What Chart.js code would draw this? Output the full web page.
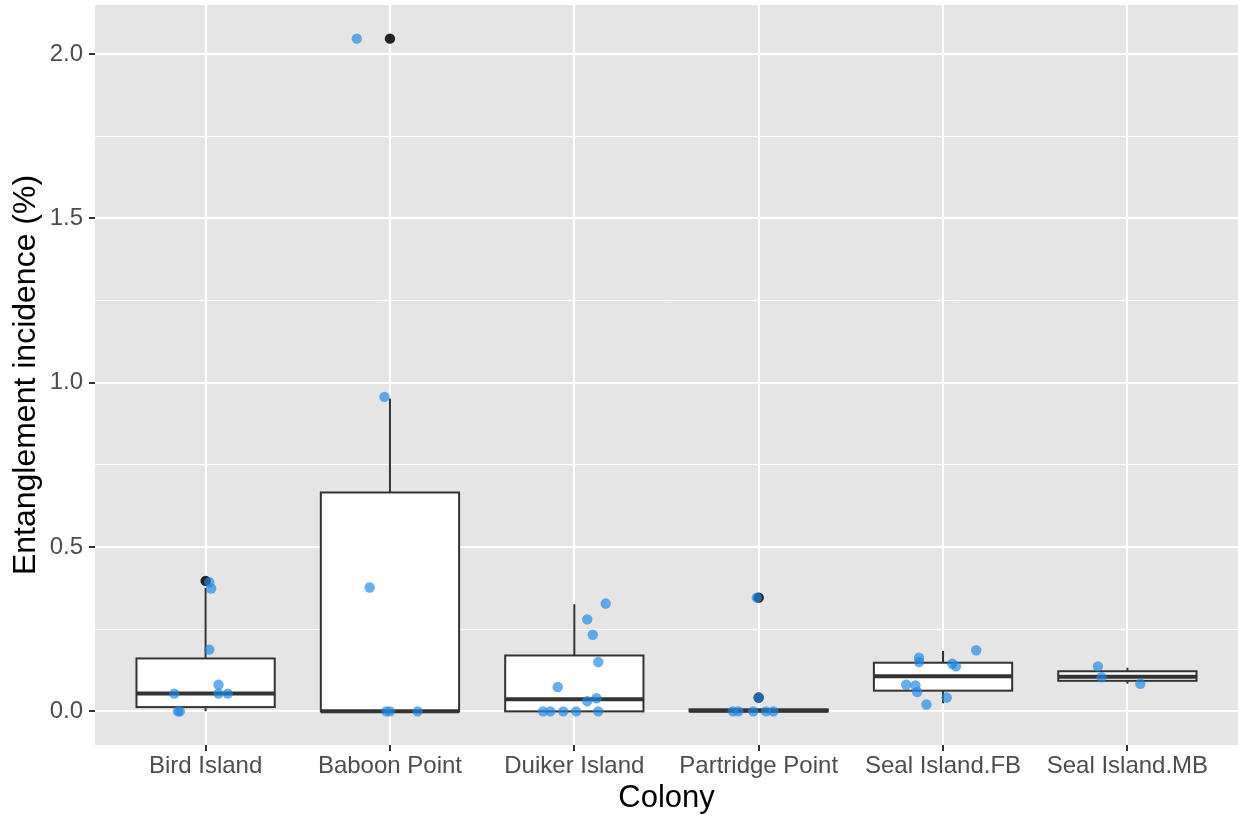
<!DOCTYPE html>
<html>
<head>
<meta charset="utf-8">
<title>Entanglement incidence by colony</title>
<script src="https://cdn.jsdelivr.net/npm/chart.js@4.4.1/dist/chart.umd.min.js"></script>
<style>
  html, body { margin: 0; padding: 0; background: #ffffff; }
  #chart { display: block; }
</style>
</head>
<body>
<canvas id="chart" width="1238" height="817"></canvas>
<script>
// Colonies on the x axis
const colonies = ['Bird Island', 'Baboon Point', 'Duiker Island', 'Partridge Point', 'Seal Island.FB', 'Seal Island.MB'];

// Box-plot summaries per colony (entanglement incidence, %)
const lowerWhisker = [0.000, 0.000, 0.000, 0.000, 0.025, 0.084];
const lowerQuartile = [0.013, 0.000, 0.000, 0.000, 0.063, 0.093];
const medianValue  = [0.054, 0.000, 0.0365, 0.002, 0.107, 0.105];
const upperQuartile = [0.161, 0.666, 0.170, 0.006, 0.148, 0.122];
const upperWhisker = [0.375, 0.952, 0.326, 0.006, 0.184, 0.133];
const outlierValues = [[0.397], [2.047], [], [0.346, 0.042], [], []];

// Individual observations per colony, with the horizontal jitter of each point (category units)
const birdIsland = [0.393, 0.374, 0.188, 0.081, 0.054, 0.054, 0.054, 0, 0];
const birdIslandJitter = [0.02, 0.03, 0.02, 0.07, -0.17, 0.07, 0.12, -0.15, -0.14];
const baboonPoint = [2.047, 0.957, 0.377, 0, 0, 0];
const baboonPointJitter = [-0.18, -0.03, -0.11, -0.02, 0.00, 0.15];
const duikerIsland = [0.328, 0.280, 0.233, 0.150, 0.074, 0.040, 0.031, 0, 0, 0, 0, 0];
const duikerIslandJitter = [0.17, 0.07, 0.10, 0.13, -0.09, 0.12, 0.07, -0.17, -0.13, -0.06, 0.01, 0.13];
const partridgePoint = [0.346, 0.042, 0, 0, 0, 0, 0];
const partridgePointJitter = [-0.01, 0.00, -0.14, -0.11, -0.03, 0.04, 0.08];
const sealIslandFB = [0.186, 0.163, 0.150, 0.145, 0.137, 0.081, 0.079, 0.059, 0.042, 0.021];
const sealIslandFBJitter = [0.18, -0.13, -0.13, 0.05, 0.07, -0.20, -0.15, -0.14, 0.02, -0.09];
const sealIslandMB = [0.137, 0.104, 0.084];
const sealIslandMBJitter = [-0.16, -0.14, 0.07];

// Axis ticks
const yMajorTicks = [0, 0.5, 1.0, 1.5, 2.0];
const yTickLabels = ['0.0', '0.5', '1.0', '1.5', '2.0'];
const yMinorTicks = [0.25, 0.75, 1.25, 1.75];

const observations = [birdIsland, baboonPoint, duikerIsland, partridgePoint, sealIslandFB, sealIslandMB];
const jitters = [birdIslandJitter, baboonPointJitter, duikerIslandJitter, partridgePointJitter, sealIslandFBJitter, sealIslandMBJitter];

const FONT = "'Liberation Sans', Arial, Helvetica, sans-serif";
const BOX_HALF = 0.375;
const LINE = '#333333';

// Scale limits padded by 5% of the data range, categories padded by 0.6
const dataMax = Math.max(...observations.flat());
const dataMin = 0;
const pad = (dataMax - dataMin) * 0.05;
const yMin = dataMin - pad;
const yMax = dataMax + pad;

const jitterPoints = [];
observations.forEach((vals, i) => {
  vals.forEach((v, k) => jitterPoints.push({ x: i + 1 + jitters[i][k], y: v }));
});
const outlierPoints = [];
outlierValues.forEach((vals, i) => vals.forEach(v => outlierPoints.push({ x: i + 1, y: v })));

// Panel background and box-and-whisker glyphs, drawn through the chart scales
const boxPlotLayer = {
  id: 'boxPlotLayer',
  beforeDraw(chart) {
    const { ctx, chartArea: a } = chart;
    ctx.save();
    ctx.fillStyle = '#e5e5e5';
    ctx.fillRect(a.left, a.top, a.right - a.left, a.bottom - a.top);
    ctx.restore();
  },
  beforeDatasetsDraw(chart) {
    const { ctx, scales: { x, y } } = chart;
    ctx.save();
    ctx.strokeStyle = LINE;
    colonies.forEach((name, i) => {
      const pos = i + 1;
      const xc = x.getPixelForValue(pos);
      const x0 = x.getPixelForValue(pos - BOX_HALF);
      const x1 = x.getPixelForValue(pos + BOX_HALF);
      const yq1 = y.getPixelForValue(lowerQuartile[i]);
      const yq3 = y.getPixelForValue(upperQuartile[i]);
      const ymed = y.getPixelForValue(medianValue[i]);
      const ylo = y.getPixelForValue(lowerWhisker[i]);
      const yhi = y.getPixelForValue(upperWhisker[i]);

      // whiskers
      ctx.lineWidth = 2;
      ctx.lineCap = 'butt';
      ctx.beginPath();
      ctx.moveTo(xc, yq3); ctx.lineTo(xc, yhi);
      ctx.moveTo(xc, yq1); ctx.lineTo(xc, ylo);
      ctx.stroke();

      // box
      ctx.fillStyle = '#ffffff';
      ctx.fillRect(x0, yq3, x1 - x0, yq1 - yq3);
      ctx.lineWidth = 2;
      ctx.strokeRect(x0, yq3, x1 - x0, yq1 - yq3);

      // median
      ctx.lineWidth = 4;
      ctx.beginPath();
      ctx.moveTo(x0, ymed); ctx.lineTo(x1, ymed);
      ctx.stroke();
    });
    ctx.restore();
  }
};

const isMajorY = (v) => yMajorTicks.indexOf(v) !== -1;

new Chart(document.getElementById('chart'), {
  type: 'scatter',
  data: {
    datasets: [
      {
        label: 'observations',
        data: jitterPoints,
        backgroundColor: 'rgba(30,136,229,0.68)',
        borderWidth: 0,
        pointRadius: 5.2,
        pointHoverRadius: 5.2
      },
      {
        label: 'outliers',
        data: outlierPoints,
        backgroundColor: '#232323',
        borderWidth: 0,
        pointRadius: 5.2,
        pointHoverRadius: 5.2
      }
    ]
  },
  options: {
    responsive: false,
    animation: false,
    devicePixelRatio: 1,
    layout: { autoPadding: false, padding: { top: 5, right: 0, bottom: 0, left: 0 } },
    plugins: { legend: { display: false }, tooltip: { enabled: false } },
    scales: {
      x: {
        type: 'linear',
        min: 0.4,
        max: colonies.length + 0.6,
        afterBuildTicks: (s) => { s.ticks = colonies.map((c, i) => ({ value: i + 1 })); },
        afterFit: (s) => { s.height = 72; s.paddingLeft = 0; s.paddingRight = 0; },
        border: { display: false },
        grid: { color: '#ffffff', lineWidth: 2, tickColor: LINE, tickWidth: 2, tickLength: 6 },
        ticks: {
          autoSkip: false, maxRotation: 0, minRotation: 0, padding: 1,
          color: '#4d4d4d', font: { family: FONT, size: 24 },
          callback: (v) => colonies[Math.round(v) - 1]
        },
        title: {
          display: true, text: 'Colony', color: '#000000',
          font: { family: FONT, size: 31, lineHeight: 1 },
          padding: { top: 0, bottom: 3 }
        }
      },
      y: {
        type: 'linear',
        min: yMin,
        max: yMax,
        afterBuildTicks: (s) => {
          s.ticks = yMajorTicks.concat(yMinorTicks).sort((a, b) => a - b).map(v => ({ value: v }));
        },
        afterFit: (s) => { s.width = 95; s.paddingTop = 0; s.paddingBottom = 0; },
        border: { display: false },
        grid: {
          color: '#ffffff',
          lineWidth: (c) => (c.tick && isMajorY(c.tick.value)) ? 2 : 1,
          tickColor: (c) => (c.tick && isMajorY(c.tick.value)) ? LINE : 'rgba(0,0,0,0)',
          tickWidth: 2,
          tickLength: 6
        },
        ticks: {
          autoSkip: false, padding: 6,
          color: '#4d4d4d', font: { family: FONT, size: 24 },
          callback: (v) => { const k = yMajorTicks.indexOf(v); return k === -1 ? '' : yTickLabels[k]; }
        },
        title: {
          display: true, text: 'Entanglement incidence (%)', color: '#000000',
          font: { family: FONT, size: 32, lineHeight: 1 },
          padding: { top: 10, bottom: 0 }
        }
      }
    }
  },
  plugins: [boxPlotLayer]
});
</script>
</body>
</html>
